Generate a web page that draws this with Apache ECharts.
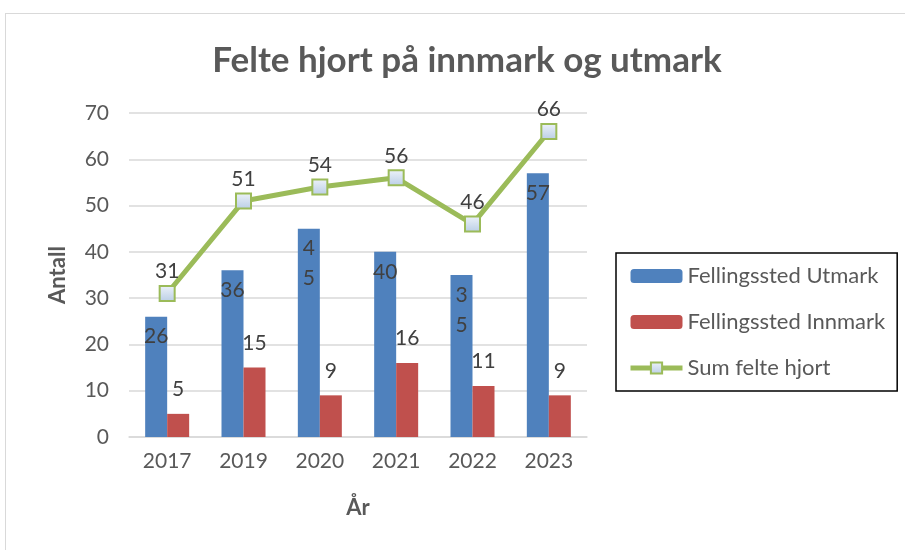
<!DOCTYPE html>
<html>
<head>
<meta charset="utf-8">
<script src="https://cdn.jsdelivr.net/npm/echarts@6/dist/echarts.min.js"></script>
<style>
  html, body { margin: 0; padding: 0; background: #fff; }
  #frame { position: absolute; left: 5px; top: 13px; width: 920px; height: 560px; border: 1px solid #d9d9d9; box-sizing: border-box; }
  #myChart { position: absolute; left: 0; top: 0; width: 905px; height: 550px; }
</style>
</head>
<body>
<div id="frame"></div>
<div id="myChart"></div>
<script>
  // data
  const years = ['2017', '2019', '2020', '2021', '2022', '2023'];
  const utmark = [26, 36, 45, 40, 35, 57];
  const innmark = [5, 15, 9, 16, 11, 9];
  const sumFelte = [31, 51, 54, 56, 46, 66];
  // Excel wrapped these two labels over two lines
  const utmarkWrapped = [false, false, true, false, true, false];

  const font = 'Lato, "Open Sans", sans-serif';
  const grey = '#595959';

  let myChart = echarts.init(document.getElementById('myChart'));
  myChart.setOption({
    animation: false,
    textStyle: { fontFamily: font },
    title: {
      text: 'Felte hjort på innmark og utmark',
      left: 462, top: 38, textAlign: 'center',
      textStyle: { fontSize: 35, fontWeight: 'bold', color: grey, fontFamily: font }
    },
    legend: {
      orient: 'vertical',
      left: 616, top: 253,
      padding: [12, 12, 12, 12],
      itemGap: 24,
      itemWidth: 52, itemHeight: 14,
      borderColor: '#000', borderWidth: 1.5,
      textStyle: { fontSize: 22, color: grey, fontFamily: font },
      data: [
        'Fellingssted Utmark',
        'Fellingssted Innmark',
        { name: 'Sum felte hjort', lineStyle: { width: 5 } }
      ]
    },
    grid: { left: 129, right: 318, top: 113, bottom: 113 },
    xAxis: {
      type: 'category',
      data: years,
      name: 'År',
      nameLocation: 'middle',
      nameGap: 60,
      nameTextStyle: { fontSize: 22, fontWeight: 'bold', color: grey },
      axisTick: { show: false },
      axisLine: { lineStyle: { color: '#d9d9d9', width: 1.5 } },
      axisLabel: { fontSize: 21, color: grey, margin: 14 }
    },
    yAxis: {
      type: 'value',
      min: 0, max: 70, interval: 10,
      name: 'Antall',
      nameLocation: 'middle',
      nameGap: 60,
      nameTextStyle: { fontSize: 22, fontWeight: 'bold', color: grey },
      axisLine: { show: false },
      axisTick: { show: false },
      axisLabel: { fontSize: 21, color: grey, margin: 20 },
      splitLine: { lineStyle: { color: '#d9d9d9', width: 1.5 } }
    },
    series: [
      {
        name: 'Fellingssted Utmark',
        type: 'bar',
        data: utmark,
        barWidth: 22,
        barGap: '0%',
        itemStyle: { color: '#4f81bd' },
        label: {
          show: true, position: 'insideTop', distance: 5,
          fontSize: 21, color: '#404040', lineHeight: 30,
          formatter: function (p) {
            let s = String(p.value);
            return utmarkWrapped[p.dataIndex] ? s.split('').join('\n') : s;
          }
        }
      },
      {
        name: 'Fellingssted Innmark',
        type: 'bar',
        data: innmark,
        barWidth: 22,
        barGap: '0%',
        itemStyle: { color: '#c0504d' },
        label: { show: true, position: 'top', distance: 14, fontSize: 21, color: '#404040' }
      },
      {
        name: 'Sum felte hjort',
        type: 'line',
        data: sumFelte,
        symbol: 'rect',
        symbolSize: 15,
        lineStyle: { color: '#9bbb59', width: 5 },
        itemStyle: {
          color: new echarts.graphic.LinearGradient(0, 0, 0, 1, [
            { offset: 0, color: '#eef3fa' },
            { offset: 1, color: '#b9cde5' }
          ]),
          borderColor: '#9bbb59',
          borderWidth: 2
        },
        label: { show: true, position: 'top', distance: 3, fontSize: 21, color: '#404040' },
        z: 5
      }
    ]
  });
</script>
</body>
</html>
